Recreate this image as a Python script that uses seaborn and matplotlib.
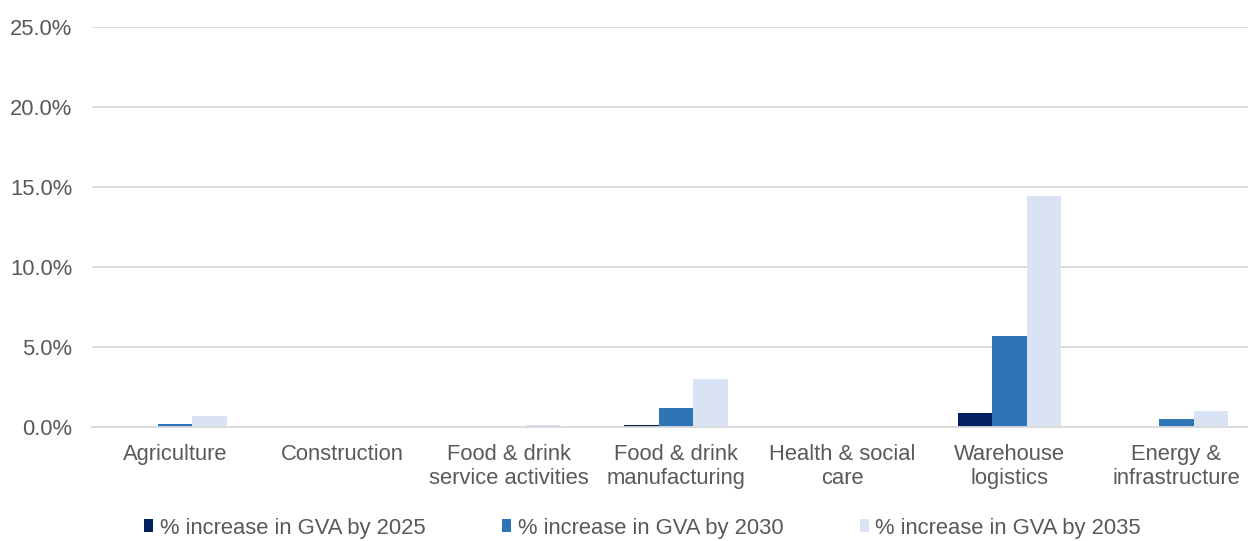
import matplotlib
matplotlib.use("Agg")
import matplotlib.pyplot as plt
from matplotlib.patches import Patch
from matplotlib.ticker import FuncFormatter
import seaborn as sns
import pandas as pd

categories = [
    "Agriculture",
    "Construction",
    "Food & drink\nservice activities",
    "Food & drink\nmanufacturing",
    "Health & social\ncare",
    "Warehouse\nlogistics",
    "Energy &\ninfrastructure",
]
series_names = [
    "% increase in GVA by 2025",
    "% increase in GVA by 2030",
    "% increase in GVA by 2035",
]
gva_2025 = [0.0, 0.0, 0.0, 0.1, 0.0, 0.85, 0.0]
gva_2030 = [0.15, 0.0, 0.0, 1.2, 0.0, 5.7, 0.5]
gva_2035 = [0.7, 0.0, 0.12, 3.0, 0.0, 14.45, 1.0]
colors = ["#002060", "#2E75B6", "#DAE3F3"]

rows = []
for name, vals in zip(series_names, [gva_2025, gva_2030, gva_2035]):
    for cat, v in zip(categories, vals):
        rows.append({"category": cat, "series": name, "value": v})
df = pd.DataFrame(rows)

sns.set_style("white")
plt.rcParams["font.family"] = ["Liberation Sans", "DejaVu Sans"]

FS = 15.8
fig = plt.figure(figsize=(12.48, 5.41), dpi=100)
# plot area runs slightly past the right edge of the canvas
ax = fig.add_axes([0.0735, 0.211, 0.936, 0.739])

sns.barplot(data=df, x="category", y="value", hue="series",
            palette=colors, width=0.62, ax=ax, legend=False,
            saturation=1, linewidth=0)

ax.set_ylim(0, 25)
ax.set_xlim(-0.5, 6.5)
ax.set_yticks([0, 5, 10, 15, 20, 25])
ax.yaxis.set_major_formatter(FuncFormatter(lambda v, _: f"{v:.1f}%"))
ax.grid(axis="y", color="#D9D9D9", linewidth=1.3)
ax.set_axisbelow(True)
for s in ["top", "right", "left"]:
    ax.spines[s].set_visible(False)
ax.spines["bottom"].set_color("#D9D9D9")
ax.spines["bottom"].set_linewidth(1.3)
ax.set_xlabel("")
ax.set_ylabel("")
ax.tick_params(axis="both", length=0, labelsize=FS, colors="#595959")
ax.tick_params(axis="y", pad=14)
ax.tick_params(axis="x", pad=12)
for lbl in ax.get_xticklabels():
    lbl.set_linespacing(1.2)

handles = [Patch(facecolor=c, edgecolor="none") for c in colors]
fig.legend(handles, series_names, loc="center", bbox_to_anchor=(0.515, 0.024),
           ncol=3, frameon=False, fontsize=FS, labelcolor="#595959",
           handlelength=0.4, handleheight=0.5, handletextpad=0.3,
           columnspacing=3.5, borderpad=0)

fig.savefig("out.png", dpi=100)
